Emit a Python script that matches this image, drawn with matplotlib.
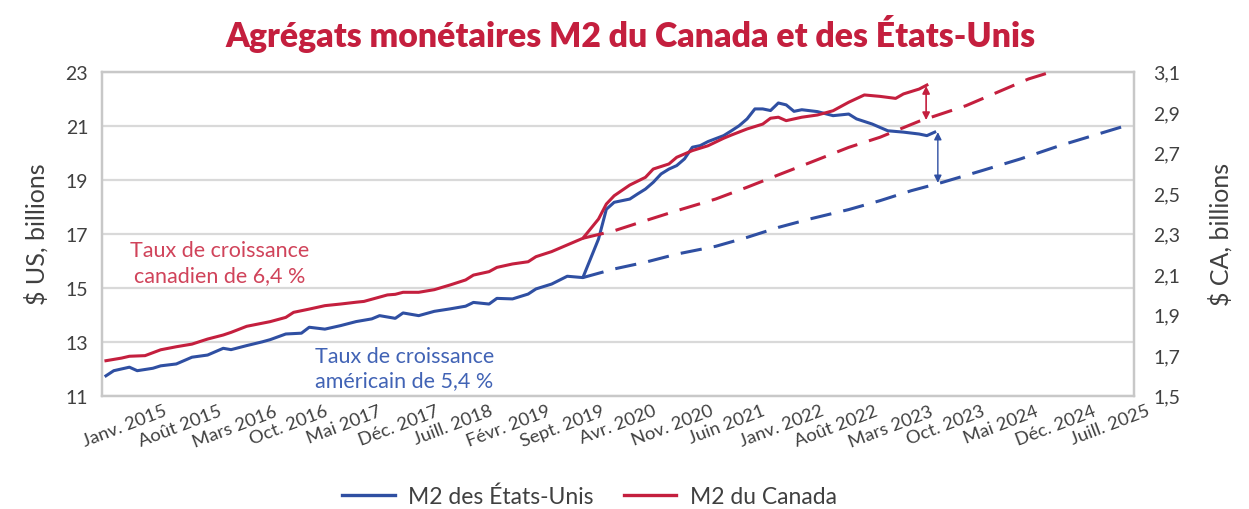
import matplotlib
matplotlib.use("Agg")
import matplotlib.pyplot as plt
from matplotlib.transforms import ScaledTranslation

plt.rcParams['font.family'] = ['Lato', 'DejaVu Sans']

# ---- data (month index: 0 = janvier 2015) ----
us_month = [0,1,3,4,6,7,9,11,13,15,16,18,20,21,23,25,26,28,30,32,34,35,37,38,40,42,44,46,47,49,
            50,52,54,55,57,59,61,63,64,65,67,68,69,70,71,72,73,74,75,76,77,79,80,81,82,83,84,85,86,87,
            88,89,91,93,95,96,98,100,102,104,105,106]
us_value = [11.73,11.92,12.05,11.92,12.01,12.10,12.17,12.42,12.50,12.75,12.70,12.85,12.99,13.07,13.28,13.31,
            13.53,13.46,13.59,13.74,13.84,13.96,13.86,14.06,13.96,14.12,14.21,14.31,14.45,14.39,14.60,14.58,
            14.76,14.95,15.13,15.42,15.37,16.80,17.90,18.16,18.28,18.47,18.65,18.90,19.21,19.39,19.52,19.77,
            20.20,20.26,20.41,20.63,20.81,21.00,21.25,21.62,21.62,21.56,21.84,21.77,21.53,21.59,21.52,21.37,
            21.43,21.25,21.06,20.81,20.76,20.69,20.63,20.76]

ca_month = [0,2,3,5,7,9,11,13,15,16,18,21,23,24,26,28,30,32,33,36,37,38,40,42,44,46,47,49,50,52,
            54,55,57,59,61,63,64,65,67,69,70,72,73,75,77,79,80,82,84,85,86,87,89,91,93,95,97,99,101,102,
            104,105]
ca_value = [1.672,1.685,1.694,1.697,1.726,1.741,1.754,1.779,1.799,1.812,1.842,1.865,1.886,1.911,1.927,1.944,
            1.952,1.961,1.965,1.997,2.000,2.010,2.010,2.023,2.046,2.071,2.095,2.112,2.133,2.150,2.161,2.186,
            2.211,2.244,2.277,2.372,2.446,2.487,2.540,2.578,2.619,2.644,2.677,2.710,2.734,2.771,2.787,2.817,
            2.841,2.870,2.875,2.858,2.875,2.886,2.907,2.949,2.985,2.978,2.968,2.990,3.014,3.034]

us_trend_month = [61,65,69,73,78,82,86,90,95,99,103,107,112,117,122,130]
us_trend_value = [15.37,15.69,15.94,16.24,16.53,16.86,17.23,17.54,17.89,18.22,18.59,18.90,19.33,19.77,20.26,20.96]

ca_trend_month = [61,65,69,73,78,82,86,90,95,99,104,110,114,118,121]
ca_trend_value = [2.277,2.314,2.364,2.413,2.471,2.529,2.590,2.650,2.726,2.776,2.855,2.932,2.998,3.064,3.100]

ca_gap_month = 104.9
ca_gap = [3.029, 2.861]
us_gap_month = 106.4
us_gap = [20.76, 18.88]

tick_months = list(range(0, 127, 7))
tick_labels = ["Janv. 2015", "Août 2015", "Mars 2016", "Oct. 2016", "Mai 2017", "Déc. 2017",
               "Juill. 2018", "Févr. 2019", "Sept. 2019", "Avr. 2020", "Nov. 2020", "Juin 2021",
               "Janv. 2022", "Août 2022", "Mars 2023", "Oct. 2023", "Mai 2024", "Déc. 2024", "Juill. 2025"]

us_ticks = [11, 13, 15, 17, 19, 21, 23]
ca_ticks = [1.5, 1.7, 1.9, 2.1, 2.3, 2.5, 2.7, 2.9, 3.1]

BLUE = "#2F4FA2"
RED = "#C41F3E"
GRID = "#D9D9D9"
TXT = "#404040"

fig = plt.figure(figsize=(12.49, 5.10), dpi=100)
ax = fig.add_axes([0.0817, 0.2225, 0.9080 - 0.0817, 0.8575 - 0.2225])
ax2 = ax.twinx()

ax.set_xlim(-0.5, 131.5)
ax.set_ylim(11, 23)
ax2.set_ylim(1.5, 3.1)

ax.plot(us_month, us_value, color=BLUE, lw=2.2, solid_joinstyle='round', zorder=3)
l1, = ax.plot(us_trend_month, us_trend_value, color=BLUE, lw=2.2, zorder=3)
l1.set_dashes([7, 4])
ax2.plot(ca_month, ca_value, color=RED, lw=2.2, solid_joinstyle='round', zorder=3)
l2, = ax2.plot(ca_trend_month, ca_trend_value, color=RED, lw=2.2, zorder=3)
l2.set_dashes([7, 4])

ax2.annotate("", xy=(ca_gap_month, ca_gap[1]), xytext=(ca_gap_month, ca_gap[0]),
             arrowprops=dict(arrowstyle="<|-|>", color=RED, lw=1.2, mutation_scale=11,
                             shrinkA=0, shrinkB=0))
ax.annotate("", xy=(us_gap_month, us_gap[1]), xytext=(us_gap_month, us_gap[0]),
            arrowprops=dict(arrowstyle="<|-|>", color=BLUE, lw=1.0, mutation_scale=11,
                            shrinkA=0, shrinkB=0))

# grid and frame
ax.set_yticks(us_ticks)
ax.yaxis.grid(True, color=GRID, lw=1.6)
ax.set_axisbelow(True)
for a in (ax, ax2):
    for s in a.spines.values():
        s.set_color("#C8C8C8")
        s.set_linewidth(1.6)
ax2.set_yticks(ca_ticks)
ax2.set_yticklabels([f"{t:.1f}".replace(".", ",") for t in ca_ticks])
ax.set_yticklabels([str(t) for t in us_ticks])

ax.tick_params(axis='y', length=0, pad=10, labelsize=14, labelcolor=TXT)
ax2.tick_params(axis='y', length=0, pad=14, labelsize=14, labelcolor=TXT)

ax.set_xticks(tick_months)
ax.set_xticklabels(tick_labels, rotation=21, ha='center', fontsize=13.3, color=TXT)
ax.tick_params(axis='x', length=0, pad=5)
offset = ScaledTranslation(0.19, 0, fig.dpi_scale_trans)
for lab in ax.get_xticklabels():
    lab.set_transform(lab.get_transform() + offset)

ax.set_ylabel("$ US, billions", fontsize=18, color=TXT, labelpad=12)
ax2.set_ylabel("$ CA, billions", fontsize=18, color=TXT, labelpad=20, rotation=90)

ax.text(0.114, 0.41, "Taux de croissance\ncanadien de 6,4 %", transform=ax.transAxes,
        color="#D0435A", fontsize=15.5, ha='center', va='center', linespacing=1.3)
ax.text(0.293, 0.085, "Taux de croissance\naméricain de 5,4 %", transform=ax.transAxes,
        color="#4163B5", fontsize=15.5, ha='center', va='center', linespacing=1.3)

fig.text(0.505, 0.933, "Agrégats monétaires M2 du Canada et des États-Unis", ha='center', va='center',
         fontsize=24.3, fontweight='heavy', color=RED)

h1, = ax.plot([], [], color=BLUE, lw=2.4)
h2, = ax.plot([], [], color=RED, lw=2.4)
fig.legend([h1, h2], ["M2 des États-Unis", "M2 du Canada"], loc='center', bbox_to_anchor=(0.472, 0.025),
           ncol=2, frameon=False, fontsize=16.5, handlelength=2.3, handletextpad=0.6, columnspacing=1.3,
           labelcolor=TXT)

fig.savefig("out.png", dpi=100)
